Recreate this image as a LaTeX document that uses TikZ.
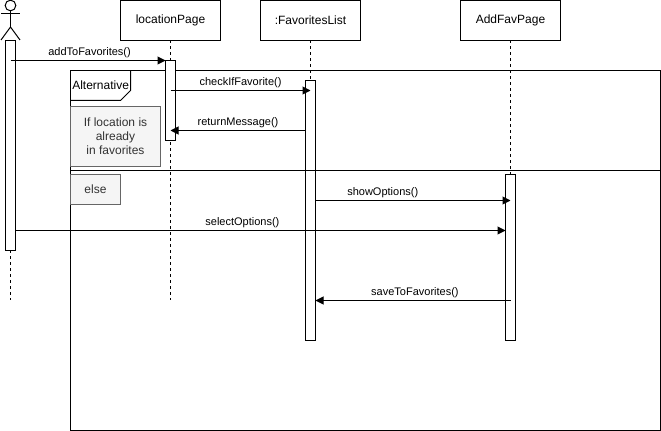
\documentclass[tikz,border=0pt]{standalone}
\usepackage{fontspec}
\setmainfont{Liberation Sans}
\usepackage{xcolor}
\usetikzlibrary{arrows.meta,positioning}
\definecolor{notefill}{RGB}{245,245,245}
\definecolor{notedraw}{RGB}{102,102,102}
\definecolor{notetext}{RGB}{51,51,51}
\tikzset{
  headbox/.style ={draw, fill=white, minimum width=75pt, minimum height=30pt,
                   font=\fontsize{9pt}{11pt}\selectfont, inner sep=0pt, outer sep=0pt},
  actbar/.style  ={draw, fill=white, minimum width=7.5pt, minimum height=#1,
                   anchor=north, inner sep=0pt, outer sep=0pt},
  notebox/.style ={draw=notedraw, fill=notefill, text=notetext, align=center,
                   anchor=north west, inner sep=0pt, outer sep=0pt,
                   font=\fontsize{9pt}{10.5pt}\selectfont},
  msg/.style     ={-{Triangle[length=6pt,width=6pt]}, line width=0.75pt},
  msglbl/.style  ={font=\fontsize{8.25pt}{10pt}\selectfont, above, inner sep=1.5pt},
  lifeline/.style={dash pattern=on 2.25pt off 2.25pt, line width=0.75pt},
  umlline/.style ={line width=0.75pt},
}
\begin{document}
\begin{tikzpicture}[x=0.75pt,y=-0.75pt]
  \useasboundingbox (0,0) rectangle (661,431);
  % lifeline heads
  \node[headbox] (pageloc) at (170.5,20.5) {locationPage};
  \node[headbox] (favlist) at (310.5,20.5) {:FavoritesList};
  \node[headbox] (pageadd) at (510.5,20.5) {AddFavPage};
  \coordinate (actorfoot) at (10.5,40.5);
  \coordinate (actorend) at (10.5,300.5);
  \coordinate (locend) at (170.5,300.5);
  \coordinate (favend) at (310.5,340.5);
  \coordinate (addend) at (510.5,340.5);
  \draw[lifeline](actorfoot)--(actorend);
  \draw[lifeline](pageloc)--(locend);
  \draw[lifeline](favlist)--(favend);
  \draw[lifeline](pageadd)--(addend);
  % actor
  \node[draw, circle, minimum size=8pt, inner sep=0pt, outer sep=0pt, line width=0.75pt] (head) at (10.5,5.5) {};
  \coordinate (hip) at (10.5,27);
  \coordinate (armL) at (1,14);
  \coordinate (armR) at (20,14);
  \coordinate (legL) at (1,40);
  \coordinate (legR) at (20,40);
  \draw[umlline](head)--(hip);
  \draw[umlline](armL)--(armR);
  \draw[umlline](legL)--(hip)--(legR);
  % frame
  \node[draw, line width=0.75pt, minimum width=442.5pt, minimum height=270pt, anchor=north west, inner sep=0pt, outer sep=0pt] (frame) at (70.5,70.5) {};
  \node[inner sep=0pt, anchor=west, font=\fontsize{9pt}{11pt}\selectfont] (alt) at (72,85.5) {Alternative};
  \draw[umlline](frame.north west)++(60,0)--++(0,20)--++(-10,10)--++(-50,0);
  \node[notebox, minimum width=67.5pt, minimum height=45pt] (cond) at (70.5,106.5) {If location is\\already\\in favorites};
  \node[notebox, minimum width=37.5pt, minimum height=22.5pt] (other) at (70.5,174.5) {else};
  % activations
  \node[actbar=157.5pt] (actuser) at (10.5,40.5) {};
  \node[actbar=60pt] (actloc) at (170.5,60.5) {};
  \node[actbar=195pt] (actfav) at (310.5,80.5) {};
  \node[actbar=124.5pt] (actadd) at (510.5,174.5) {};
  % divider runs over the activations
  \coordinate (divL) at (70.5,170.5);
  \coordinate (divR) at (660.5,170.5);
  \draw[umlline](divL)--(divR);
  % messages
  \coordinate (rowadd) at (0,60.5);
  \coordinate (rowcheck) at (0,90.5);
  \coordinate (rowret) at (0,130.5);
  \coordinate (rowshow) at (0,200.5);
  \coordinate (rowsel) at (0,230.5);
  \coordinate (rowsave) at (0,300.5);
  \draw[msg](actuser.center|-rowadd)--(actloc.west|-rowadd) node[msglbl,pos=0.51] (lbladd) {addToFavorites()};
  \draw[msg](actloc.center|-rowcheck)--(actfav.center|-rowcheck) node[msglbl,pos=0.5] (lblcheck) {checkIfFavorite()};
  \draw[msg](actfav.west|-rowret)--(actloc.center|-rowret) node[msglbl,pos=0.5] (lblret) {returnMessage()};
  \draw[msg](actfav.east|-rowshow)--(actadd.center|-rowshow) node[msglbl,pos=0.345] (lblshow) {showOptions()};
  \draw[msg](actuser.east|-rowsel)--(actadd.west|-rowsel) node[msglbl,pos=0.463] (lblsel) {selectOptions()};
  \draw[msg](actadd.center|-rowsave)--(actfav.east|-rowsave) node[msglbl,pos=0.49] (lblsave) {saveToFavorites()};
\end{tikzpicture}
\end{document}
